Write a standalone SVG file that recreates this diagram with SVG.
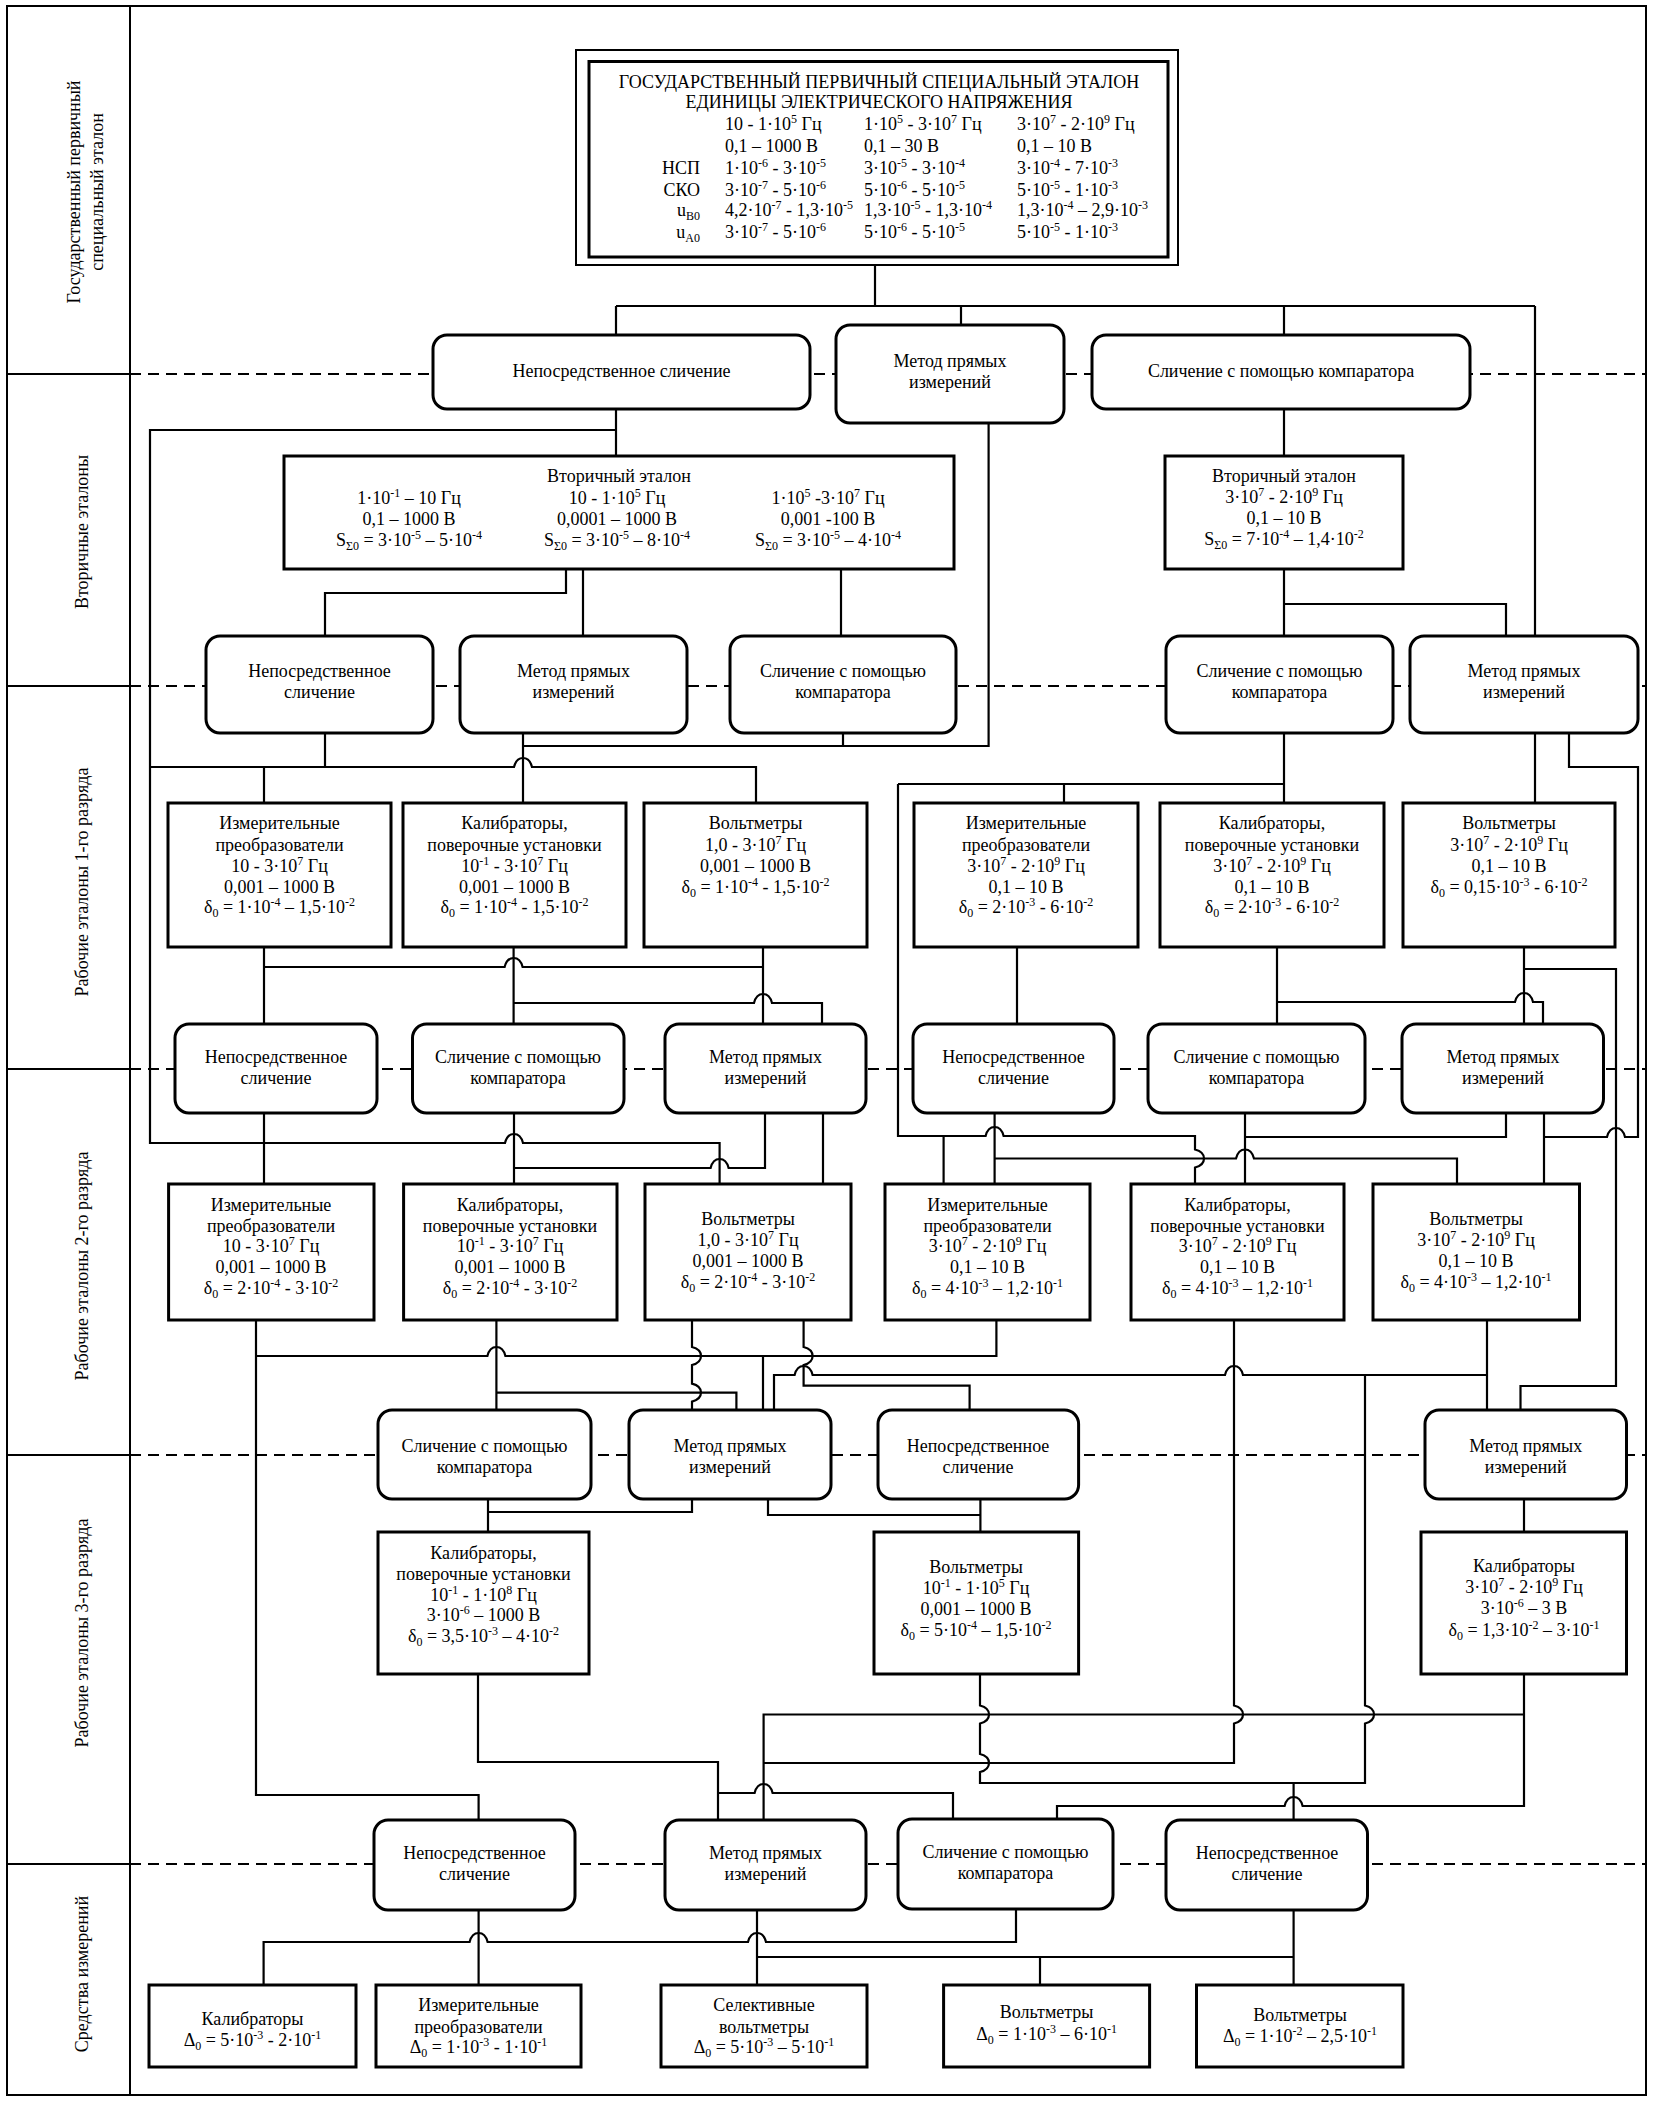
<svg xmlns="http://www.w3.org/2000/svg" width="1654" height="2101" viewBox="0 0 1654 2101">
<style>
text{font-family:"Liberation Serif","Times New Roman",serif;font-size:18px;fill:#000}
.t{text-anchor:middle}
.l{text-anchor:start}
.r{text-anchor:end}
.p{font-size:12px;baseline-shift:7px}
.s{font-size:12px;baseline-shift:-4px}
.f{fill:#fff;stroke:#000;stroke-width:3}
.f2{fill:#fff;stroke:#000;stroke-width:2}
.c{fill:none;stroke:#000;stroke-width:2.2;stroke-linejoin:miter}
.d{fill:none;stroke:#000;stroke-width:2;stroke-dasharray:11 7}
.g{fill:none;stroke:#000;stroke-width:2}
</style>
<rect width="1654" height="2101" fill="#fff"/>
<g id="frame">
<rect x="7" y="6" width="1639" height="2089" class="g" stroke-width="3"/>
<line x1="130" y1="6" x2="130" y2="2095" class="g"/>
<path class="g" d="M7,374H130M7,686H130M7,1069H130M7,1455H130M7,1864H130"/>
<path class="d" d="M130,374H1646M130,686H1646M130,1069H1646M130,1455H1646M130,1864H1646"/>
<text class="t" transform="translate(0,192) rotate(-90)" x="0" y="80">Государственный первичный</text>
<text class="t" transform="translate(0,192) rotate(-90)" x="0" y="103">специальный эталон</text>
<text class="t" transform="translate(0,532) rotate(-90)" x="0" y="88">Вторичные эталоны</text>
<text class="t" transform="translate(0,882) rotate(-90)" x="0" y="88">Рабочие эталоны 1-го разряда</text>
<text class="t" transform="translate(0,1266) rotate(-90)" x="0" y="88">Рабочие эталоны 2-го разряда</text>
<text class="t" transform="translate(0,1633) rotate(-90)" x="0" y="88">Рабочие эталоны 3-го разряда</text>
<text class="t" transform="translate(0,1974) rotate(-90)" x="0" y="88">Средства измерений</text>
</g>
<g id="connectors">
<path class="c" d="M875,265V306"/>
<path class="c" d="M616,306H1535"/>
<path class="c" d="M616,306V335"/>
<path class="c" d="M961,306V325"/>
<path class="c" d="M1284,306V335"/>
<path class="c" d="M1535,306V636"/>
<path class="c" d="M616,409V456"/>
<path class="c" d="M616,430H150V1143H505C508,1131 520,1131 523,1143H719.6V1184"/>
<path class="c" d="M988.6,423V746H523"/>
<path class="c" d="M1284,409V456"/>
<path class="c" d="M566,569V593H325V636"/>
<path class="c" d="M583,569V636"/>
<path class="c" d="M841,569V636"/>
<path class="c" d="M1284,569V636"/>
<path class="c" d="M1284,604H1506V636"/>
<path class="c" d="M150,767H514C517,755 529,755 532,767H756V803"/>
<path class="c" d="M325,733V767"/>
<path class="c" d="M264,767V803"/>
<path class="c" d="M523,733V803"/>
<path class="c" d="M843,733V746"/>
<path class="c" d="M1284,733V803"/>
<path class="c" d="M898,784H1284"/>
<path class="c" d="M898,784V1136H985.6C988.6,1124 1000.6,1124 1003.6,1136H1195V1149.5C1207,1152.5 1207,1164.5 1195,1167.5V1184"/>
<path class="c" d="M943.6,1136V1184"/>
<path class="c" d="M1064,784V803"/>
<path class="c" d="M1535,733V803"/>
<path class="c" d="M1569,733V767H1638V1137H1625C1622,1125 1610,1125 1607,1137H1544"/>
<path class="c" d="M264,947V1024"/>
<path class="c" d="M264,967H504.6C507.6,955 519.6,955 522.6,967H763"/>
<path class="c" d="M763,947V1024"/>
<path class="c" d="M513.6,947V1024"/>
<path class="c" d="M513.6,1003H754C757,991 769,991 772,1003H822V1024"/>
<path class="c" d="M1017,947V1024"/>
<path class="c" d="M1277,947V1024"/>
<path class="c" d="M1277,1002H1515C1518,990 1530,990 1533,1002H1543V1024"/>
<path class="c" d="M1524,947V1024"/>
<path class="c" d="M1524,969H1616V1386H1520.5V1410"/>
<path class="c" d="M264,1113V1184"/>
<path class="c" d="M514,1113V1184"/>
<path class="c" d="M514,1168H710.6C713.6,1156 725.6,1156 728.6,1168H765V1113"/>
<path class="c" d="M823,1113V1184"/>
<path class="c" d="M994.6,1113V1184"/>
<path class="c" d="M994.6,1158.5H1236C1239,1146.5 1251,1146.5 1254,1158.5H1457V1184"/>
<path class="c" d="M1245,1113V1184"/>
<path class="c" d="M1245,1137H1506V1113"/>
<path class="c" d="M1544,1113V1184"/>
<path class="c" d="M256,1320V1795H478.6V1820"/>
<path class="c" d="M256,1356H487.4C490.4,1344 502.4,1344 505.4,1356H996.4V1320"/>
<path class="c" d="M763,1356V1410"/>
<path class="c" d="M496.4,1320V1410"/>
<path class="c" d="M496.4,1392.6H736.4V1410"/>
<path class="c" d="M692,1320V1347C704,1350 704,1362 692,1365V1383.6C704,1386.6 704,1398.6 692,1401.6V1410"/>
<path class="c" d="M803.6,1320V1347C815.6,1350 815.6,1362 803.6,1365V1385.7H969.6V1410"/>
<path class="c" d="M774,1410V1375H794.6C797.6,1363 809.6,1363 812.6,1375H1225C1228,1363 1240,1363 1243,1375H1487"/>
<path class="c" d="M1487,1320V1410"/>
<path class="c" d="M1234,1320V1705.5C1246,1708.5 1246,1720.5 1234,1723.5V1763H763.6"/>
<path class="c" d="M1365,1375V1705.5C1377,1708.5 1377,1720.5 1365,1723.5V1783H980V1772C992,1769 992,1757 980,1754V1723.5C992,1720.5 992,1708.5 980,1705.5V1674"/>
<path class="c" d="M1293.6,1783V1820"/>
<path class="c" d="M1524,1674V1806H1302.6C1299.6,1794 1287.6,1794 1284.6,1806H1057V1819"/>
<path class="c" d="M1524,1714.5H763.6V1819"/>
<path class="c" d="M478,1674V1762H718V1819"/>
<path class="c" d="M718,1793H754.6C757.6,1781 769.6,1781 772.6,1793H953V1819"/>
<path class="c" d="M488,1499V1532"/>
<path class="c" d="M692,1499V1512H488"/>
<path class="c" d="M768,1499V1515H980.4"/>
<path class="c" d="M980.4,1499V1532"/>
<path class="c" d="M1524,1499V1532"/>
<path class="c" d="M478.6,1910V1985"/>
<path class="c" d="M1016,1909V1942H766C763,1930 751,1930 748,1942H487.6C484.6,1930 472.6,1930 469.6,1942H263.6V1985"/>
<path class="c" d="M757,1910V1985"/>
<path class="c" d="M757,1957H1293.6"/>
<path class="c" d="M1040,1957V1985"/>
<path class="c" d="M1293.6,1910V1985"/>
</g>
<g id="primary">
<rect x="576" y="50" width="602" height="215" class="f2"/>
<rect x="589" y="61.5" width="579" height="195.5" class="f"/>
<text class="t" x="879" y="88">ГОСУДАРСТВЕННЫЙ ПЕРВИЧНЫЙ СПЕЦИАЛЬНЫЙ ЭТАЛОН</text>
<text class="t" x="879" y="108">ЕДИНИЦЫ ЭЛЕКТРИЧЕСКОГО НАПРЯЖЕНИЯ</text>
<text class="l" x="725" y="130">10 - 1·10<tspan class="p">5</tspan> Гц</text>
<text class="l" x="864" y="130">1·10<tspan class="p">5</tspan> - 3·10<tspan class="p">7</tspan> Гц</text>
<text class="l" x="1017" y="130">3·10<tspan class="p">7</tspan> - 2·10<tspan class="p">9</tspan> Гц</text>
<text class="l" x="725" y="152">0,1 – 1000 В</text>
<text class="l" x="864" y="152">0,1 – 30 В</text>
<text class="l" x="1017" y="152">0,1 – 10 В</text>
<text class="r" x="700" y="174">НСП</text>
<text class="l" x="725" y="174">1·10<tspan class="p">-6</tspan> - 3·10<tspan class="p">-5</tspan></text>
<text class="l" x="864" y="174">3·10<tspan class="p">-5</tspan> - 3·10<tspan class="p">-4</tspan></text>
<text class="l" x="1017" y="174">3·10<tspan class="p">-4</tspan> - 7·10<tspan class="p">-3</tspan></text>
<text class="r" x="700" y="196">СКО</text>
<text class="l" x="725" y="196">3·10<tspan class="p">-7</tspan> - 5·10<tspan class="p">-6</tspan></text>
<text class="l" x="864" y="196">5·10<tspan class="p">-6</tspan> - 5·10<tspan class="p">-5</tspan></text>
<text class="l" x="1017" y="196">5·10<tspan class="p">-5</tspan> - 1·10<tspan class="p">-3</tspan></text>
<text class="r" x="700" y="216">u<tspan class="s">B0</tspan></text>
<text class="l" x="725" y="216">4,2·10<tspan class="p">-7</tspan> - 1,3·10<tspan class="p">-5</tspan></text>
<text class="l" x="864" y="216">1,3·10<tspan class="p">-5</tspan> - 1,3·10<tspan class="p">-4</tspan></text>
<text class="l" x="1017" y="216">1,3·10<tspan class="p">-4</tspan> – 2,9·10<tspan class="p">-3</tspan></text>
<text class="r" x="700" y="238">u<tspan class="s">A0</tspan></text>
<text class="l" x="725" y="238">3·10<tspan class="p">-7</tspan> - 5·10<tspan class="p">-6</tspan></text>
<text class="l" x="864" y="238">5·10<tspan class="p">-6</tspan> - 5·10<tspan class="p">-5</tspan></text>
<text class="l" x="1017" y="238">5·10<tspan class="p">-5</tspan> - 1·10<tspan class="p">-3</tspan></text>
</g>
<g id="a1"><rect x="433" y="335" width="377" height="74" rx="14" class="f"/><text class="t" x="621.5" y="377">Непосредственное сличение</text></g>
<g id="a2"><rect x="836" y="325" width="228" height="98" rx="14" class="f"/><text class="t" x="950" y="367">Метод прямых</text><text class="t" x="950" y="388">измерений</text></g>
<g id="a3"><rect x="1092" y="335" width="378" height="74" rx="14" class="f"/><text class="t" x="1281" y="377">Сличение с помощью компаратора</text></g>
<g id="b1">
<rect x="284" y="456" width="670" height="113" class="f"/>
<text class="t" x="619" y="482">Вторичный эталон</text>
<text class="t" x="409" y="504">1·10<tspan class="p">-1</tspan> – 10 Гц</text>
<text class="t" x="409" y="525">0,1 – 1000 В</text>
<text class="t" x="409" y="546">S<tspan class="s">Σ0</tspan> = 3·10<tspan class="p">-5</tspan> – 5·10<tspan class="p">-4</tspan></text>
<text class="t" x="617" y="504">10 - 1·10<tspan class="p">5</tspan> Гц</text>
<text class="t" x="617" y="525">0,0001 – 1000 В</text>
<text class="t" x="617" y="546">S<tspan class="s">Σ0</tspan> = 3·10<tspan class="p">-5</tspan> – 8·10<tspan class="p">-4</tspan></text>
<text class="t" x="828" y="504">1·10<tspan class="p">5</tspan> -3·10<tspan class="p">7</tspan> Гц</text>
<text class="t" x="828" y="525">0,001 -100 В</text>
<text class="t" x="828" y="546">S<tspan class="s">Σ0</tspan> = 3·10<tspan class="p">-5</tspan> – 4·10<tspan class="p">-4</tspan></text>
</g>
<g id="b2">
<rect x="1165" y="456" width="238" height="113" class="f"/>
<text class="t" x="1284" y="482">Вторичный эталон</text>
<text class="t" x="1284" y="503">3·10<tspan class="p">7</tspan> - 2·10<tspan class="p">9</tspan> Гц</text>
<text class="t" x="1284" y="524">0,1 – 10 В</text>
<text class="t" x="1284" y="545">S<tspan class="s">Σ0</tspan> = 7·10<tspan class="p">-4</tspan> – 1,4·10<tspan class="p">-2</tspan></text>
</g>
<g id="c1"><rect x="206" y="636" width="227" height="97" rx="14" class="f"/><text class="t" x="319.5" y="677">Непосредственное</text><text class="t" x="319.5" y="698">сличение</text></g>
<g id="c2"><rect x="460" y="636" width="227" height="97" rx="14" class="f"/><text class="t" x="573.5" y="677">Метод прямых</text><text class="t" x="573.5" y="698">измерений</text></g>
<g id="c3"><rect x="730" y="636" width="226" height="97" rx="14" class="f"/><text class="t" x="843" y="677">Сличение с помощью</text><text class="t" x="843" y="698">компаратора</text></g>
<g id="c4"><rect x="1166" y="636" width="227" height="97" rx="14" class="f"/><text class="t" x="1279.5" y="677">Сличение с помощью</text><text class="t" x="1279.5" y="698">компаратора</text></g>
<g id="c5"><rect x="1410" y="636" width="228" height="97" rx="14" class="f"/><text class="t" x="1524" y="677">Метод прямых</text><text class="t" x="1524" y="698">измерений</text></g>
<g id="d1"><rect x="168" y="803" width="223" height="144" class="f"/>
<text class="t" x="279.5" y="829">Измерительные</text><text class="t" x="279.5" y="851">преобразователи</text><text class="t" x="279.5" y="872">10 - 3·10<tspan class="p">7</tspan> Гц</text><text class="t" x="279.5" y="893">0,001 – 1000 В</text><text class="t" x="279.5" y="913">δ<tspan class="s">0</tspan> = 1·10<tspan class="p">-4</tspan> – 1,5·10<tspan class="p">-2</tspan></text></g>
<g id="d2"><rect x="403" y="803" width="223" height="144" class="f"/>
<text class="t" x="514.5" y="829">Калибраторы,</text><text class="t" x="514.5" y="851">поверочные установки</text><text class="t" x="514.5" y="872">10<tspan class="p">-1</tspan> - 3·10<tspan class="p">7</tspan> Гц</text><text class="t" x="514.5" y="893">0,001 – 1000 В</text><text class="t" x="514.5" y="913">δ<tspan class="s">0</tspan> = 1·10<tspan class="p">-4</tspan> - 1,5·10<tspan class="p">-2</tspan></text></g>
<g id="d3"><rect x="644" y="803" width="223" height="144" class="f"/>
<text class="t" x="755.5" y="829">Вольтметры</text><text class="t" x="755.5" y="851">1,0 - 3·10<tspan class="p">7</tspan> Гц</text><text class="t" x="755.5" y="872">0,001 – 1000 В</text><text class="t" x="755.5" y="893">δ<tspan class="s">0</tspan> = 1·10<tspan class="p">-4</tspan> - 1,5·10<tspan class="p">-2</tspan></text></g>
<g id="d4"><rect x="914" y="803" width="224" height="144" class="f"/>
<text class="t" x="1026" y="829">Измерительные</text><text class="t" x="1026" y="851">преобразователи</text><text class="t" x="1026" y="872">3·10<tspan class="p">7</tspan> - 2·10<tspan class="p">9</tspan> Гц</text><text class="t" x="1026" y="893">0,1 – 10 В</text><text class="t" x="1026" y="913">δ<tspan class="s">0</tspan> = 2·10<tspan class="p">-3</tspan> - 6·10<tspan class="p">-2</tspan></text></g>
<g id="d5"><rect x="1160" y="803" width="224" height="144" class="f"/>
<text class="t" x="1272" y="829">Калибраторы,</text><text class="t" x="1272" y="851">поверочные установки</text><text class="t" x="1272" y="872">3·10<tspan class="p">7</tspan> - 2·10<tspan class="p">9</tspan> Гц</text><text class="t" x="1272" y="893">0,1 – 10 В</text><text class="t" x="1272" y="913">δ<tspan class="s">0</tspan> = 2·10<tspan class="p">-3</tspan> - 6·10<tspan class="p">-2</tspan></text></g>
<g id="d6"><rect x="1403" y="803" width="212" height="144" class="f"/>
<text class="t" x="1509" y="829">Вольтметры</text><text class="t" x="1509" y="851">3·10<tspan class="p">7</tspan> - 2·10<tspan class="p">9</tspan> Гц</text><text class="t" x="1509" y="872">0,1 – 10 В</text><text class="t" x="1509" y="893">δ<tspan class="s">0</tspan> = 0,15·10<tspan class="p">-3</tspan> - 6·10<tspan class="p">-2</tspan></text></g>
<g id="e1"><rect x="175" y="1024" width="202" height="89" rx="14" class="f"/><text class="t" x="276" y="1063">Непосредственное</text><text class="t" x="276" y="1084">сличение</text></g>
<g id="e2"><rect x="412.5" y="1024" width="211.5" height="89" rx="14" class="f"/><text class="t" x="518" y="1063">Сличение с помощью</text><text class="t" x="518" y="1084">компаратора</text></g>
<g id="e3"><rect x="665" y="1024" width="201" height="89" rx="14" class="f"/><text class="t" x="765.5" y="1063">Метод прямых</text><text class="t" x="765.5" y="1084">измерений</text></g>
<g id="e4"><rect x="913" y="1024" width="201" height="89" rx="14" class="f"/><text class="t" x="1013.5" y="1063">Непосредственное</text><text class="t" x="1013.5" y="1084">сличение</text></g>
<g id="e5"><rect x="1148" y="1024" width="217" height="89" rx="14" class="f"/><text class="t" x="1256.5" y="1063">Сличение с помощью</text><text class="t" x="1256.5" y="1084">компаратора</text></g>
<g id="e6"><rect x="1402" y="1024" width="201.5" height="89" rx="14" class="f"/><text class="t" x="1503" y="1063">Метод прямых</text><text class="t" x="1503" y="1084">измерений</text></g>
<g id="f1"><rect x="168.6" y="1184" width="205.4" height="136" class="f"/>
<text class="t" x="271" y="1211">Измерительные</text><text class="t" x="271" y="1232">преобразователи</text><text class="t" x="271" y="1252">10 - 3·10<tspan class="p">7</tspan> Гц</text><text class="t" x="271" y="1273">0,001 – 1000 В</text><text class="t" x="271" y="1294">δ<tspan class="s">0</tspan> = 2·10<tspan class="p">-4</tspan> - 3·10<tspan class="p">-2</tspan></text></g>
<g id="f2"><rect x="403.6" y="1184" width="213.4" height="136" class="f"/>
<text class="t" x="510" y="1211">Калибраторы,</text><text class="t" x="510" y="1232">поверочные установки</text><text class="t" x="510" y="1252">10<tspan class="p">-1</tspan> - 3·10<tspan class="p">7</tspan> Гц</text><text class="t" x="510" y="1273">0,001 – 1000 В</text><text class="t" x="510" y="1294">δ<tspan class="s">0</tspan> = 2·10<tspan class="p">-4</tspan> - 3·10<tspan class="p">-2</tspan></text></g>
<g id="f3"><rect x="645" y="1184" width="206" height="136" class="f"/>
<text class="t" x="748" y="1225">Вольтметры</text><text class="t" x="748" y="1246">1,0 - 3·10<tspan class="p">7</tspan> Гц</text><text class="t" x="748" y="1267">0,001 – 1000 В</text><text class="t" x="748" y="1288">δ<tspan class="s">0</tspan> = 2·10<tspan class="p">-4</tspan> - 3·10<tspan class="p">-2</tspan></text></g>
<g id="f4"><rect x="885" y="1184" width="205" height="136" class="f"/>
<text class="t" x="987.5" y="1211">Измерительные</text><text class="t" x="987.5" y="1232">преобразователи</text><text class="t" x="987.5" y="1252">3·10<tspan class="p">7</tspan> - 2·10<tspan class="p">9</tspan> Гц</text><text class="t" x="987.5" y="1273">0,1 – 10 В</text><text class="t" x="987.5" y="1294">δ<tspan class="s">0</tspan> = 4·10<tspan class="p">-3</tspan> – 1,2·10<tspan class="p">-1</tspan></text></g>
<g id="f5"><rect x="1131" y="1184" width="213" height="136" class="f"/>
<text class="t" x="1237.5" y="1211">Калибраторы,</text><text class="t" x="1237.5" y="1232">поверочные установки</text><text class="t" x="1237.5" y="1252">3·10<tspan class="p">7</tspan> - 2·10<tspan class="p">9</tspan> Гц</text><text class="t" x="1237.5" y="1273">0,1 – 10 В</text><text class="t" x="1237.5" y="1294">δ<tspan class="s">0</tspan> = 4·10<tspan class="p">-3</tspan> – 1,2·10<tspan class="p">-1</tspan></text></g>
<g id="f6"><rect x="1373" y="1184" width="206.5" height="136" class="f"/>
<text class="t" x="1476" y="1225">Вольтметры</text><text class="t" x="1476" y="1246">3·10<tspan class="p">7</tspan> - 2·10<tspan class="p">9</tspan> Гц</text><text class="t" x="1476" y="1267">0,1 – 10 В</text><text class="t" x="1476" y="1288">δ<tspan class="s">0</tspan> = 4·10<tspan class="p">-3</tspan> – 1,2·10<tspan class="p">-1</tspan></text></g>
<g id="g1"><rect x="378" y="1410" width="213" height="89" rx="14" class="f"/><text class="t" x="484.5" y="1452">Сличение с помощью</text><text class="t" x="484.5" y="1473">компаратора</text></g>
<g id="g2"><rect x="629" y="1410" width="202" height="89" rx="14" class="f"/><text class="t" x="730" y="1452">Метод прямых</text><text class="t" x="730" y="1473">измерений</text></g>
<g id="g3"><rect x="878" y="1410" width="200.6" height="89" rx="14" class="f"/><text class="t" x="978" y="1452">Непосредственное</text><text class="t" x="978" y="1473">сличение</text></g>
<g id="g4"><rect x="1425" y="1410" width="201.5" height="89" rx="14" class="f"/><text class="t" x="1525.7" y="1452">Метод прямых</text><text class="t" x="1525.7" y="1473">измерений</text></g>
<g id="h1"><rect x="378" y="1532" width="211" height="142" class="f"/>
<text class="t" x="483.5" y="1559">Калибраторы,</text><text class="t" x="483.5" y="1580">поверочные установки</text><text class="t" x="483.5" y="1601">10<tspan class="p">-1</tspan> - 1·10<tspan class="p">8</tspan> Гц</text><text class="t" x="483.5" y="1621">3·10<tspan class="p">-6</tspan> – 1000 В</text><text class="t" x="483.5" y="1642">δ<tspan class="s">0</tspan> = 3,5·10<tspan class="p">-3</tspan> – 4·10<tspan class="p">-2</tspan></text></g>
<g id="h2"><rect x="874" y="1532" width="204.6" height="142" class="f"/>
<text class="t" x="976" y="1573">Вольтметры</text><text class="t" x="976" y="1594">10<tspan class="p">-1</tspan> - 1·10<tspan class="p">5</tspan> Гц</text><text class="t" x="976" y="1615">0,001 – 1000 В</text><text class="t" x="976" y="1636">δ<tspan class="s">0</tspan> = 5·10<tspan class="p">-4</tspan> – 1,5·10<tspan class="p">-2</tspan></text></g>
<g id="h3"><rect x="1421" y="1532" width="205.5" height="142" class="f"/>
<text class="t" x="1524" y="1572">Калибраторы</text><text class="t" x="1524" y="1593">3·10<tspan class="p">7</tspan> - 2·10<tspan class="p">9</tspan> Гц</text><text class="t" x="1524" y="1614">3·10<tspan class="p">-6</tspan> – 3 В</text><text class="t" x="1524" y="1636">δ<tspan class="s">0</tspan> = 1,3·10<tspan class="p">-2</tspan> – 3·10<tspan class="p">-1</tspan></text></g>
<g id="i1"><rect x="374" y="1820" width="201" height="90" rx="14" class="f"/><text class="t" x="474.5" y="1859">Непосредственное</text><text class="t" x="474.5" y="1880">сличение</text></g>
<g id="i2"><rect x="665" y="1820" width="201" height="90" rx="14" class="f"/><text class="t" x="765.5" y="1859">Метод прямых</text><text class="t" x="765.5" y="1880">измерений</text></g>
<g id="i3"><rect x="898" y="1819" width="215" height="90" rx="14" class="f"/><text class="t" x="1005.5" y="1858">Сличение с помощью</text><text class="t" x="1005.5" y="1879">компаратора</text></g>
<g id="i4"><rect x="1166" y="1820" width="201.5" height="90" rx="14" class="f"/><text class="t" x="1267" y="1859">Непосредственное</text><text class="t" x="1267" y="1880">сличение</text></g>
<g id="j1"><rect x="149" y="1985" width="207" height="82" class="f"/><text class="t" x="252.5" y="2025">Калибраторы</text><text class="t" x="252.5" y="2046">Δ<tspan class="s">0</tspan> = 5·10<tspan class="p">-3</tspan> - 2·10<tspan class="p">-1</tspan></text></g>
<g id="j2"><rect x="376" y="1985" width="205" height="82" class="f"/><text class="t" x="478.5" y="2011">Измерительные</text><text class="t" x="478.5" y="2033">преобразователи</text><text class="t" x="478.5" y="2053">Δ<tspan class="s">0</tspan> = 1·10<tspan class="p">-3</tspan> - 1·10<tspan class="p">-1</tspan></text></g>
<g id="j3"><rect x="661" y="1985" width="206" height="82" class="f"/><text class="t" x="764" y="2011">Селективные</text><text class="t" x="764" y="2033">вольтметры</text><text class="t" x="764" y="2053">Δ<tspan class="s">0</tspan> = 5·10<tspan class="p">-3</tspan> – 5·10<tspan class="p">-1</tspan></text></g>
<g id="j4"><rect x="943.6" y="1985" width="206" height="82" class="f"/><text class="t" x="1046.6" y="2018">Вольтметры</text><text class="t" x="1046.6" y="2040">Δ<tspan class="s">0</tspan> = 1·10<tspan class="p">-3</tspan> – 6·10<tspan class="p">-1</tspan></text></g>
<g id="j5"><rect x="1196.5" y="1985" width="206.5" height="82" class="f"/><text class="t" x="1300" y="2021">Вольтметры</text><text class="t" x="1300" y="2042">Δ<tspan class="s">0</tspan> = 1·10<tspan class="p">-2</tspan> – 2,5·10<tspan class="p">-1</tspan></text></g>
</svg>
